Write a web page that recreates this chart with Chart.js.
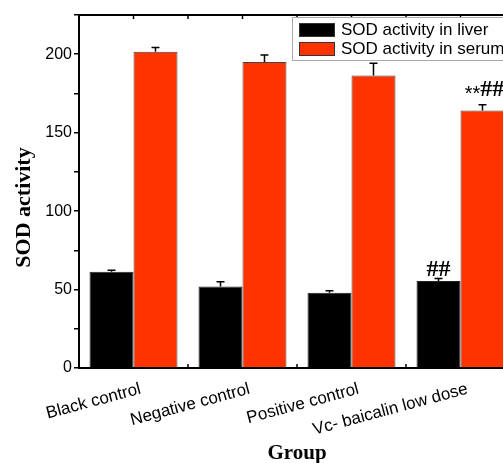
<!DOCTYPE html>
<html>
<head>
<meta charset="utf-8">
<script src="https://cdn.jsdelivr.net/npm/chart.js@4.4.1/dist/chart.umd.min.js"></script>
<style>
  html, body { margin: 0; padding: 0; background: #fff; overflow: hidden; }
</style>
</head>
<body>
<canvas id="sodChart" width="520" height="463"></canvas>
<script>
const groups = ["Black control", "Negative control", "Positive control", "Vc- baicalin low dose"];

const liverValues = [61.3, 52, 48, 55.5];
const liverErrors = [1, 3, 1.2, 1.5];
const liverMarks = ["", "", "", "##"];

const serumValues = [201.5, 195, 186.5, 164.2];
const serumErrors = [2.8, 4.5, 7.8, 3.6];
const serumMarks = ["", "", "", "**##"];

const yTicks = [0, 50, 100, 150, 200];
const yTitle = "SOD activity";

const sans = "'Liberation Sans', Arial, sans-serif";
const serif = "'Liberation Serif', 'Times New Roman', serif";

// error bars (upper half only) + significance marks
const errorBars = {
  id: "errorBars",
  afterDatasetsDraw(chart) {
    const ctx = chart.ctx;
    const y = chart.scales.y;
    chart.data.datasets.forEach((ds, i) => {
      const meta = chart.getDatasetMeta(i);
      meta.data.forEach((bar, j) => {
        const top = y.getPixelForValue(ds.data[j] + ds.errors[j]);
        ctx.save();
        ctx.strokeStyle = "#000";
        ctx.lineWidth = 1.5;
        ctx.beginPath();
        ctx.moveTo(bar.x, bar.y);
        ctx.lineTo(bar.x, top);
        ctx.moveTo(bar.x - 4, top);
        ctx.lineTo(bar.x + 4, top);
        ctx.stroke();

        const mark = ds.marks[j];
        if (mark) {
          const stars = mark.replace(/#/g, "");
          const hashes = mark.replace(/\*/g, "");
          const base = top - ds.markGap;
          ctx.fillStyle = "#000";
          ctx.textBaseline = "alphabetic";
          ctx.font = "20px " + sans;
          const sw = ctx.measureText(stars).width;
          ctx.font = "bold 24px " + serif;
          const hw = ctx.measureText(hashes).width;
          let x = bar.x - (sw + hw) / 2 + (stars ? 2 : 0);
          ctx.textAlign = "left";
          if (stars) {
            ctx.font = "20px " + sans;
            ctx.fillText(stars, x, base + 4);
            x += sw;
          }
          ctx.font = "bold 24px " + serif;
          ctx.fillText(hashes, x, base);
        }
        ctx.restore();
      });
    });
  }
};

// closed frame, inner ticks, y title and legend box
const frame = {
  id: "frame",
  afterDraw(chart) {
    const ctx = chart.ctx;
    const a = chart.chartArea;
    const step = (a.right - a.left) / groups.length;
    ctx.save();
    ctx.strokeStyle = "#000";
    ctx.lineWidth = 2;
    ctx.strokeRect(a.left, a.top, a.right - a.left, a.bottom - a.top);
    ctx.lineWidth = 1.5;
    ctx.beginPath();
    for (let k = 1; k < groups.length * 2; k++) {
      const px = a.left + k * step / 2;
      ctx.moveTo(px, a.top);
      ctx.lineTo(px, a.top + 4);
      if (k % 2 === 0) {
        ctx.moveTo(px, a.bottom);
        ctx.lineTo(px, a.bottom - 4);
      }
    }
    ctx.stroke();

    // y axis title
    ctx.save();
    ctx.translate(24, (a.top + a.bottom) / 2 + 16);
    ctx.rotate(-Math.PI / 2);
    ctx.font = "bold 22px " + serif;
    ctx.fillStyle = "#000";
    ctx.textAlign = "center";
    ctx.textBaseline = "middle";
    ctx.fillText(yTitle, 0, 0);
    ctx.restore();

    // legend
    const lx = a.left + 213, ly = a.top + 2;
    ctx.fillStyle = "#fff";
    ctx.fillRect(lx, ly, 240, 44);
    ctx.strokeStyle = "#aaa";
    ctx.lineWidth = 1;
    ctx.strokeRect(lx + 0.5, ly + 0.5, 240, 43);
    ctx.font = "17px " + sans;
    ctx.textAlign = "left";
    ctx.textBaseline = "middle";
    chart.data.datasets.forEach((ds, i) => {
      const ry = ly + 13 + i * 19;
      ctx.fillStyle = ds.backgroundColor;
      ctx.fillRect(lx + 7, ry - 7, 36, 14);
      ctx.strokeStyle = "#333";
      ctx.strokeRect(lx + 7.5, ry - 6.5, 35, 13);
      ctx.fillStyle = "#000";
      ctx.fillText(ds.label, lx + 49, ry);
    });
    ctx.restore();
  }
};

new Chart(document.getElementById("sodChart"), {
  type: "bar",
  data: {
    labels: groups,
    datasets: [
      {
        label: "SOD activity in liver",
        data: liverValues,
        errors: liverErrors,
        marks: liverMarks,
        markGap: 3,
        backgroundColor: "#000000",
        borderColor: "#222",
        borderWidth: 1
      },
      {
        label: "SOD activity in serum",
        data: serumValues,
        errors: serumErrors,
        marks: serumMarks,
        markGap: 9,
        backgroundColor: "#ff3300",
        borderColor: "#444",
        borderWidth: 1
      }
    ]
  },
  options: {
    responsive: false,
    animation: false,
    layout: { padding: { top: 15, right: 5, left: 0, bottom: 0 } },
    datasets: { bar: { categoryPercentage: 0.807, barPercentage: 1 } },
    plugins: {
      legend: { display: false },
      tooltip: { enabled: false }
    },
    scales: {
      x: {
        grid: { display: false },
        border: { display: true, color: "#000", width: 2 },
        ticks: {
          color: "#000",
          font: { family: sans, size: 17 },
          minRotation: 15,
          maxRotation: 15,
          padding: 3,
          labelOffset: 7
        },
        title: {
          display: true,
          text: "Group",
          color: "#000",
          font: { family: serif, size: 21, weight: "bold", lineHeight: 1 },
          padding: { top: 0, bottom: -1 }
        },
        afterFit(s) { s.height = 95; }
      },
      y: {
        min: 0,
        max: 225,
        afterBuildTicks(s) {
          s.ticks = [];
          for (let v = 0; v <= 225; v += 25) s.ticks.push({ value: v });
        },
        ticks: {
          color: "#000",
          font: { family: sans, size: 16 },
          padding: 2,
          callback: v => yTicks.includes(v) ? v : ""
        },
        grid: { drawOnChartArea: false, tickLength: 5, color: "#000", lineWidth: 1.5 },
        border: { color: "#000", width: 2 },
        title: { display: false },
        afterFit(s) { s.width = 79; }
      }
    }
  },
  plugins: [errorBars, frame]
});
</script>
</body>
</html>
